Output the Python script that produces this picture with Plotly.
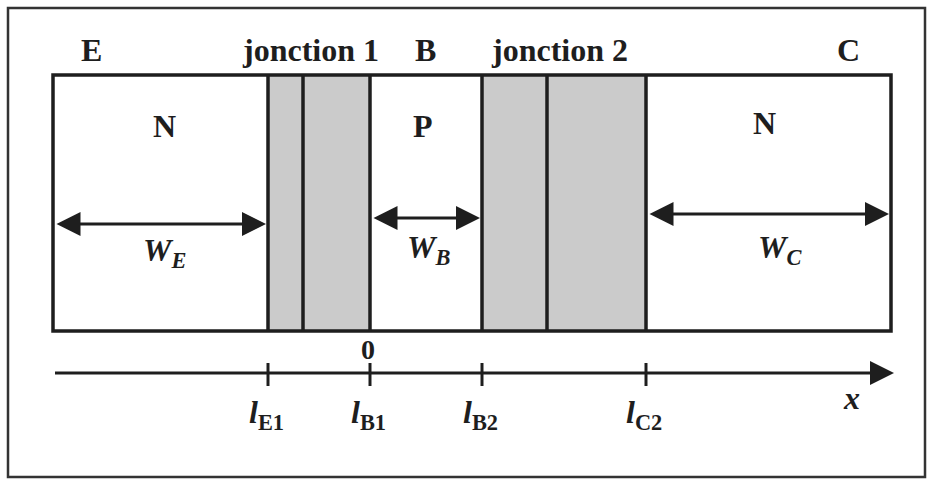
import plotly.graph_objects as go

# Diagram geometry (x in diagram units, 0 at l_B1; y downward)
emitter_left, emitter_right = -317, -102
j1_mid = -67
base_left, base_right = 0, 112
j2_mid = 177
collector_left, collector_right = 276, 521
band_top, band_bottom = 75, 331

region_letters = ["N", "P", "N"]
region_letter_x = [-206, 53, 394]
region_letter_y = [126, 126, 123]

terminal_labels = ["E", "jonction 1", "B", "jonction 2", "C"]
terminal_x = [-279, -60, 55, 189, 478]

widths_labels = ["W", "W", "W"]
widths_sub = ["E", "B", "C"]
width_spans = [(emitter_left, emitter_right), (base_left, base_right), (collector_left, collector_right)]
width_arrow_y = [224, 218, 214]
width_label_x = [-206, 58, 410]
width_label_y = [252, 249, 249]

tick_pos = [emitter_right, base_left, base_right, collector_left]
tick_names = ["E1", "B1", "B2", "C2"]
axis_y = 373

FONT = "Liberation Serif"
INK = "#1e1e1e"

fig = go.Figure()
fig.add_trace(go.Scatter(x=[-370, 558], y=[0, 480], mode="markers",
                         marker=dict(opacity=0), hoverinfo="skip", showlegend=False))

shapes = []
# outer frame
shapes.append(dict(type="rect", x0=-362, x1=555, y0=8, y1=477,
                   line=dict(color="#333333", width=2.5)))
# depletion zones (shaded)
for x0, x1 in [(emitter_right, base_left), (base_right, collector_left)]:
    shapes.append(dict(type="rect", x0=x0, x1=x1, y0=band_top, y1=band_bottom,
                       fillcolor="#cbcbcb", line=dict(width=0), layer="below"))
# inner rectangle
shapes.append(dict(type="rect", x0=emitter_left, x1=collector_right, y0=band_top, y1=band_bottom,
                   line=dict(color=INK, width=3.5)))
# vertical lines of junctions
for xv in [emitter_right, j1_mid, base_left, base_right, j2_mid, collector_left]:
    shapes.append(dict(type="line", x0=xv, x1=xv, y0=band_top, y1=band_bottom,
                       line=dict(color=INK, width=3.5)))
# x axis line
shapes.append(dict(type="line", x0=-315, x1=515, y0=axis_y, y1=axis_y,
                   line=dict(color=INK, width=3)))
# ticks
for t in tick_pos:
    shapes.append(dict(type="line", x0=t, x1=t, y0=axis_y - 10, y1=axis_y + 13,
                       line=dict(color=INK, width=3)))
fig.update_layout(shapes=shapes)

ann = []
bold = lambda s: f"<b>{s}</b>"
for lab, x in zip(terminal_labels, terminal_x):
    ann.append(dict(x=x, y=50, text=bold(lab), showarrow=False,
                    font=dict(family=FONT, size=32, color=INK)))
for lab, x, y in zip(region_letters, region_letter_x, region_letter_y):
    ann.append(dict(x=x, y=y, text=bold(lab), showarrow=False,
                    font=dict(family=FONT, size=32, color=INK)))
# double arrows for widths
for (x0, x1), y in zip(width_spans, width_arrow_y):
    ann.append(dict(x=x1 - 2, y=y, ax=x0 + 2, ay=y, xref="x", yref="y", axref="x", ayref="y",
                    text="", showarrow=True, arrowhead=2, startarrowhead=2,
                    arrowside="end+start", arrowsize=1.6, startarrowsize=1.6,
                    arrowwidth=3, arrowcolor=INK))
for w, s, x, y in zip(widths_labels, widths_sub, width_label_x, width_label_y):
    ann.append(dict(x=x, y=y, text=f"<b><i>{w}</i><sub><i>{s}</i></sub></b>", showarrow=False,
                    font=dict(family=FONT, size=32, color=INK)))
# axis arrow head
ann.append(dict(x=524, y=axis_y, ax=500, ay=axis_y, xref="x", yref="y", axref="x", ayref="y",
                text="", showarrow=True, arrowhead=2, arrowsize=1.6, arrowwidth=3, arrowcolor=INK))
# zero label
ann.append(dict(x=base_left - 2, y=349, text=bold("0"), showarrow=False,
                font=dict(family=FONT, size=28, color=INK)))
# tick labels
for t, n in zip(tick_pos, tick_names):
    ann.append(dict(x=t - 2, y=414, text=f"<b><i>l</i><sub>{n}</sub></b>", showarrow=False,
                    font=dict(family=FONT, size=32, color=INK)))
ann.append(dict(x=481, y=398, text="<b><i>x</i></b>", showarrow=False,
                font=dict(family=FONT, size=32, color=INK)))
fig.update_layout(annotations=ann)

fig.update_xaxes(range=[-370, 558], visible=False, fixedrange=True)
fig.update_yaxes(range=[480, 0], visible=False, fixedrange=True)
fig.update_layout(width=928, height=480, margin=dict(l=0, r=0, t=0, b=0),
                  plot_bgcolor="white", paper_bgcolor="white", showlegend=False)
fig.write_html("out.html", config={"displayModeBar": False},
               post_script="document.body.style.margin='0';document.body.style.overflow='hidden';")
